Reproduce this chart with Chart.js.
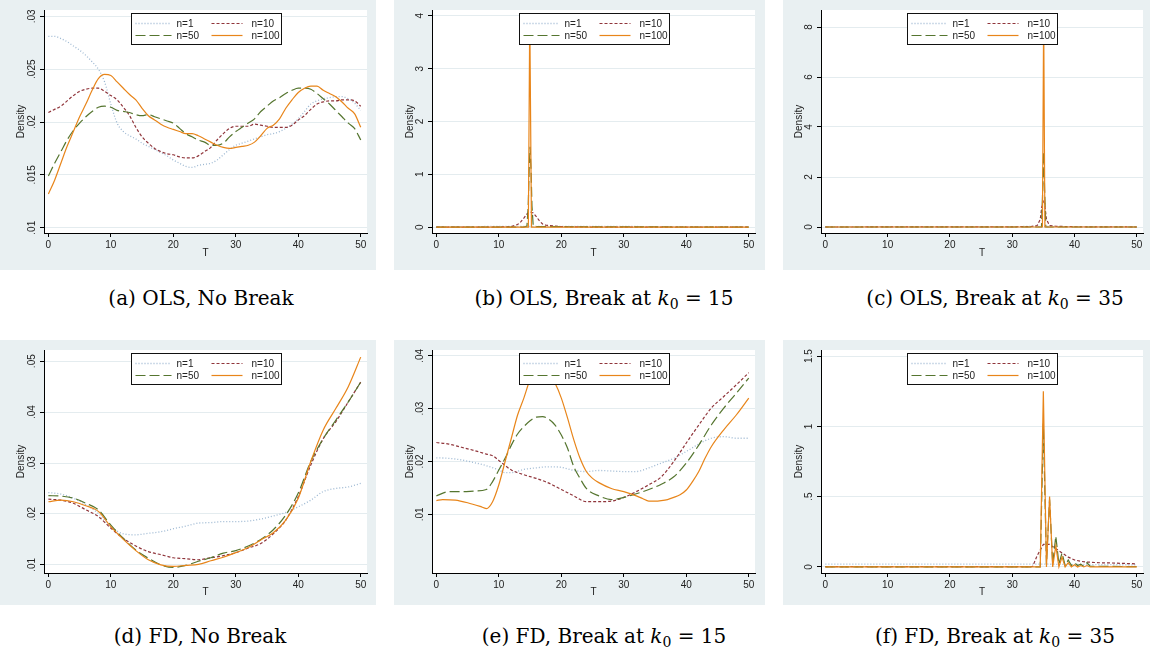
<!DOCTYPE html>
<html>
<head>
<meta charset="utf-8">
<script src="https://cdn.jsdelivr.net/npm/chart.js@4.4.0/dist/chart.umd.min.js"></script>
<style>
  body { margin: 0; width: 1150px; height: 658px; position: relative; overflow: hidden; background: #fff; }
  canvas { position: absolute; }
  .cap { position: absolute; width: 400px; text-align: center; font-family: "DejaVu Serif", serif;
         font-size: 20px; line-height: 24px; color: #000; white-space: nowrap; }
  .cap sub { font-size: 14px; vertical-align: -4px; line-height: 0; }
</style>
</head>
<body>
<script>
// series styling
const seriesLabels = ['n=1', 'n=10', 'n=50', 'n=100'];
const seriesColors = ['#9db8d2', '#90353b', '#55752f', '#e8851a'];
const seriesDash = [[1, 2], [3, 2], [10, 4], []];
const xTicks = [0, 10, 20, 30, 40, 50];

// (a) OLS, No Break
const aT = [0,1,2,3,4,5,6,7,8,9,10,11,12,13,14,15,16,17,18,19,20,21,22,23,24,25,26,27,28,29,30,31,32,33,34,35,36,37,38,39,40,41,42,43,44,45,46,47,48,49,50];
const aN1 = [.0281,.0281,.0279,.0276,.0272,.0268,.0263,.0257,.0250,.0238,.0217,.0199,.0191,.0187,.0184,.0180,.0177,.0174,.0171,.0168,.0164,.0161,.0158,.0157,.0159,.0160,.0161,.0164,.0169,.0174,.0178,.0180,.0182,.0184,.0186,.0188,.0189,.0191,.0194,.0198,.0203,.0210,.0217,.0220,.0222,.0223,.0224,.0224,.0222,.0218,.0211];
const aN10 = [.0209,.0212,.0215,.0220,.0225,.0229,.0231,.0232,.0232,.0229,.0225,.0221,.0214,.0206,.0195,.0186,.0180,.0175,.0172,.0170,.0169,.0167,.0166,.0166,.0168,.0172,.0176,.0183,.0189,.0194,.0196,.0196,.0196,.0198,.0197,.0196,.0195,.0195,.0195,.0197,.0202,.0206,.0212,.0217,.0219,.0220,.0220,.0221,.0221,.0220,.0215];
const aN50 = [.0149,.0161,.0172,.0183,.0192,.0199,.0205,.0210,.0214,.0215,.0214,.0211,.0210,.0209,.0207,.0206,.0207,.0205,.0203,.0201,.0199,.0194,.0189,.0186,.0183,.0181,.0178,.0178,.0180,.0186,.0191,.0195,.0199,.0203,.0210,.0215,.0220,.0223,.0227,.0230,.0232,.0232,.0231,.0227,.0222,.0217,.0211,.0205,.0199,.0194,.0183];
const aN100 = [.0132,.0145,.0161,.0177,.0191,.0205,.0217,.0230,.0241,.0245,.0244,.0238,.0232,.0226,.0221,.0213,.0206,.0202,.0198,.0195,.0193,.0191,.0189,.0189,.0187,.0184,.0181,.0178,.0176,.0175,.0176,.0177,.0178,.0181,.0187,.0194,.0197,.0203,.0213,.0221,.0228,.0232,.0234,.0234,.0230,.0227,.0224,.0219,.0213,.0208,.0195];

// (b) OLS, Break at k0 = 15
const bT1 = [0, 15, 50];
const bN1 = [0.01, 0.015, 0.01];
const bT10 = [0, 10, 12, 13, 13.5, 14, 14.5, 15, 15.5, 16, 16.5, 17, 17.5, 18, 19, 20, 25, 50];
const bN10 = [0, 0.003, 0.01, 0.05, 0.10, 0.17, 0.25, 0.29, 0.27, 0.20, 0.12, 0.06, 0.04, 0.03, 0.02, 0.01, 0.002, 0];
const bT50 = [0, 14, 14.5, 14.7, 14.85, 15, 15.15, 15.3, 15.5, 16, 50];
const bN50 = [0, 0, 0.02, 0.4, 1.1, 1.52, 1.1, 0.4, 0.03, 0.01, 0];
const bT100 = [0, 14.72, 14.95, 15.22, 50];
const bN100 = [0, 0, 4.05, 0, 0];

// (c) OLS, Break at k0 = 35
const cT1 = [0, 35, 50];
const cN1 = [0.01, 0.02, 0.01];
const cT10 = [0, 30, 33, 34, 34.5, 34.8, 35, 35.2, 35.5, 36, 37, 40, 50];
const cN10 = [0, 0.005, 0.02, 0.06, 0.3, 0.9, 1.08, 0.95, 0.3, 0.06, 0.03, 0.01, 0];
const cT50 = [0, 34.7, 34.9, 35.05, 35.2, 35.4, 50];
const cN50 = [0, 0, 1.5, 3.0, 1.5, 0, 0];
const cT100 = [0, 34.85, 35.05, 35.25, 50];
const cN100 = [0, 0, 8.5, 0, 0];

// (d) FD, No Break
const dT = [0,2,4,6,8,10,12,14,16,18,20,22,24,26,28,30,32,34,36,38,40,42,44,46,48,50];
const dN1 = [.0242,.0239,.0231,.0218,.0201,.0175,.0161,.0159,.0162,.0165,.0171,.0176,.0182,.0183,.0185,.0185,.0186,.0190,.0196,.0203,.0214,.0227,.0244,.0250,.0253,.0260];
const dN10 = [.0229,.0227,.0221,.0208,.0195,.0172,.0152,.0137,.0126,.0120,.0114,.0112,.0110,.0114,.0118,.0124,.0133,.0142,.0161,.0188,.0234,.0296,.0348,.0381,.0420,.0459];
const dN50 = [.0236,.0235,.0231,.0221,.0208,.0178,.0152,.0129,.0113,.0100,.0095,.0099,.0107,.0114,.0123,.0128,.0137,.0150,.0169,.0198,.0241,.0303,.0348,.0384,.0420,.0459];
const dN100 = [.0224,.0227,.0224,.0216,.0205,.0175,.0150,.0128,.0110,.0100,.0097,.0099,.0101,.0108,.0115,.0124,.0134,.0149,.0163,.0188,.0231,.0303,.0365,.0407,.0450,.0508];

// (e) FD, Break at k0 = 15
const eT1 = [0,2,4,6,8,10,11,12,14,16,18,20,22,24,26,28,30,32,34,36,38,40,42,44,46,48,50];
const eN1 = [.0207,.0206,.0203,.0198,.0192,.0184,.0179,.0179,.0185,.0188,.0190,.0189,.0183,.0181,.0183,.0182,.0181,.0181,.0188,.0197,.0206,.0219,.0233,.0244,.0247,.0244,.0244];
const eT10 = [0,2,4,6,8,9,10,12,14,16,18,20,22,24,26,28,30,32,34,36,38,40,42,44,46,48,50];
const eN10 = [.0236,.0233,.0227,.0221,.0214,.0211,.0202,.0184,.0175,.0168,.0159,.0147,.0135,.0124,.0124,.0125,.0132,.0143,.0156,.0171,.0200,.0235,.0269,.0301,.0323,.0345,.0368];
const eT50 = [0,2,4,6,8,9,10,11,12,13,14,15,16,17,18,19,20,21,22,23,24,26,28,30,32,34,36,38,40,42,44,46,48,50];
const eN50 = [.0135,.0143,.0143,.0144,.0147,.0162,.0184,.0206,.0231,.0252,.0266,.0277,.0284,.0285,.0280,.0269,.0250,.0225,.0190,.0168,.0149,.0135,.0128,.0132,.0139,.0147,.0157,.0171,.0197,.0231,.0269,.0301,.0329,.0358];
const eT100 = [0,1,3,5,7,8,9,10,11,12,13,14,15,16,17,18,19,20,21,22,23,24,25,26,28,30,32,33,34,35,36,37,38,39,40,41,42,43,44,46,48,50];
const eN100 = [.0126,.0128,.0127,.0122,.0115,.0111,.0124,.0156,.0200,.0244,.0288,.0320,.0355,.0375,.0378,.0365,.0348,.0320,.0282,.0241,.0206,.0181,.0168,.0160,.0149,.0143,.0135,.0130,.0125,.0125,.0126,.0128,.0132,.0137,.0146,.0162,.0181,.0206,.0228,.0260,.0288,.0320];

// (f) FD, Break at k0 = 35
const fT1 = [0, 34, 50];
const fN1 = [0.02, 0.02, 0.015];
const fT10 = [0, 33, 33.3, 34, 35, 36, 37, 38, 39, 40, 41, 42, 44, 46, 48, 50];
const fN10 = [0.003, 0.003, 0.005, 0.08, 0.16, 0.16, 0.13, 0.10, 0.07, 0.05, 0.04, 0.035, 0.03, 0.028, 0.025, 0.022];
const fT50 = [0, 34.5, 35, 35.5, 36, 36.5, 37, 37.5, 38, 38.5, 39, 39.5, 40, 40.5, 41, 41.5, 42, 42.5, 44, 50];
const fN50 = [0, 0, 1.02, 0.02, 0.48, 0.02, 0.22, 0.02, 0.10, 0.01, 0.05, 0.01, 0.03, 0.01, 0.02, 0.005, 0.03, 0.005, 0.005, 0.002];
const fT100 = [0, 34.5, 35, 35.5, 36, 36.5, 37, 37.5, 38, 38.5, 39, 39.5, 40, 40.5, 41, 41.5, 42, 42.5, 50];
const fN100 = [0, 0, 1.25, 0, 0.50, 0, 0.15, 0, 0.07, 0, 0.03, 0, 0.015, 0, 0.01, 0, 0.01, 0, 0];

const captions = [
  '(a) OLS, No Break',
  '(b) OLS, Break at <i>k</i><sub>0</sub> = 15',
  '(c) OLS, Break at <i>k</i><sub>0</sub> = 35',
  '(d) FD, No Break',
  '(e) FD, Break at <i>k</i><sub>0</sub> = 15',
  '(f) FD, Break at <i>k</i><sub>0</sub> = 35'
];

const panels = [
  { left: 0,   top: 0,   w: 376, h: 270, yW: 44, padR: 9,  xH: 37, tPad: 11, dPad: 15, capX: 201, capY: 298,
    yMin: .0095, yMax: .0306, yTicks: [.01, .015, .02, .025, .03], yLabels: ['.01', '.015', '.02', '.025', '.03'],
    smooth: true, xs: [aT, aT, aT, aT], ys: [aN1, aN10, aN50, aN100] },
  { left: 394, top: 0,   w: 371, h: 270, yW: 38, padR: 10, xH: 37, tPad: 11, dPad: 10, capX: 604, capY: 298,
    yMin: -0.11, yMax: 4.11, yTicks: [0, 1, 2, 3, 4], yLabels: ['0', '1', '2', '3', '4'],
    smooth: false, xs: [bT1, bT10, bT50, bT100], ys: [bN1, bN10, bN50, bN100] },
  { left: 783, top: 0,   w: 367, h: 270, yW: 38, padR: 7,  xH: 37, tPad: 11, dPad: 10, capX: 995, capY: 298,
    yMin: -0.24, yMax: 8.68, yTicks: [0, 2, 4, 6, 8], yLabels: ['0', '2', '4', '6', '8'],
    smooth: false, xs: [cT1, cT10, cT50, cT100], ys: [cN1, cN10, cN50, cN100] },
  { left: 0,   top: 340, w: 376, h: 265, yW: 44, padR: 9,  xH: 32, tPad: 7,  dPad: 15, capX: 200, capY: 636,
    yMin: .0084, yMax: .0522, yTicks: [.01, .02, .03, .04, .05], yLabels: ['.01', '.02', '.03', '.04', '.05'],
    smooth: true, xs: [dT, dT, dT, dT], ys: [dN1, dN10, dN50, dN100] },
  { left: 394, top: 340, w: 371, h: 265, yW: 38, padR: 10, xH: 32, tPad: 7,  dPad: 10, capX: 604, capY: 636,
    yMin: -0.0011, yMax: .0411, yTicks: [.01, .02, .03, .04], yLabels: ['.01', '.02', '.03', '.04'],
    smooth: true, xs: [eT1, eT10, eT50, eT100], ys: [eN1, eN10, eN50, eN100] },
  { left: 783, top: 340, w: 367, h: 265, yW: 38, padR: 7,  xH: 32, tPad: 7,  dPad: 10, capX: 995, capY: 636,
    yMin: -0.043, yMax: 1.543, yTicks: [0, .5, 1, 1.5], yLabels: ['0', '.5', '1', '1.5'],
    smooth: false, xs: [fT1, fT10, fT50, fT100], ys: [fN1, fN10, fN50, fN100] }
];

Chart.defaults.font.family = '"Liberation Sans", Arial, sans-serif';
Chart.defaults.font.size = 10;
Chart.defaults.color = '#222';

function makePanel(p, idx) {
  const cv = document.createElement('canvas');
  cv.width = p.w; cv.height = p.h;
  cv.style.left = p.left + 'px'; cv.style.top = p.top + 'px';
  document.body.appendChild(cv);

  const cap = document.createElement('div');
  cap.className = 'cap';
  cap.innerHTML = captions[idx];
  cap.style.left = (p.capX - 200) + 'px';
  cap.style.top = (p.capY - 12) + 'px';
  document.body.appendChild(cap);

  const datasets = seriesLabels.map((lab, i) => ({
    label: lab,
    data: p.xs[i].map((x, j) => ({ x: x, y: p.ys[i][j] })),
    borderColor: seriesColors[i],
    borderDash: seriesDash[i],
    borderWidth: i == 0 ? 1.3 : 1.2,
    pointRadius: 0,
    fill: false,
    tension: 0,
    cubicInterpolationMode: p.smooth ? 'monotone' : 'default',
    order: 3 - i
  }));

  const deco = {
    id: 'deco',
    beforeDraw(chart) {
      const { ctx, chartArea: a } = chart;
      ctx.save();
      ctx.fillStyle = '#e9f0f2';
      ctx.fillRect(0, 0, chart.width, chart.height);
      ctx.fillStyle = '#fff';
      ctx.fillRect(a.left, a.top, a.right - a.left, a.bottom - a.top);
      ctx.restore();
    },
    afterDatasetsDraw(chart) {
      // legend box on top of the curves
      const { ctx, chartArea: a } = chart;
      const L = Math.round((a.left + a.right) / 2 - 75) + 0.5;
      const T = Math.round(a.top + 2.5) + 0.5;
      ctx.save();
      ctx.fillStyle = '#fff';
      ctx.fillRect(L, T, 150, 31);
      ctx.strokeStyle = '#111';
      ctx.lineWidth = 1;
      ctx.strokeRect(L, T, 150, 31);
      ctx.font = '10px "Liberation Sans", Arial, sans-serif';
      ctx.textBaseline = 'middle';
      chart.data.datasets.forEach((ds, i) => {
        const col = i % 2, row = Math.floor(i / 2);
        const y = T + (row ? 22 : 10);
        ctx.strokeStyle = ds.borderColor;
        ctx.lineWidth = ds.borderWidth;
        ctx.setLineDash(ds.borderDash);
        ctx.beginPath();
        ctx.moveTo(L + (col ? 80 : 4), y);
        ctx.lineTo(L + (col ? 111 : 40), y);
        ctx.stroke();
        ctx.setLineDash([]);
        ctx.fillStyle = '#222';
        ctx.fillText(ds.label, L + (col ? 120 : 45), y + 0.5);
      });
      ctx.restore();
    },
    afterDraw(chart) {
      // rotated y tick labels, Stata style
      const { ctx, chartArea: a } = chart;
      const ys = chart.scales.y;
      ctx.save();
      ctx.font = '10px "Liberation Sans", Arial, sans-serif';
      ctx.fillStyle = '#222';
      ctx.textAlign = 'center';
      ctx.textBaseline = 'alphabetic';
      p.yTicks.forEach((v, i) => {
        ctx.save();
        ctx.translate(a.left - 9, ys.getPixelForValue(v));
        ctx.rotate(-Math.PI / 2);
        ctx.fillText(p.yLabels[i], 0, 0);
        ctx.restore();
      });
      ctx.restore();
    }
  };

  new Chart(cv.getContext('2d'), {
    type: 'line',
    data: { datasets: datasets },
    options: {
      responsive: false,
      animation: false,
      devicePixelRatio: 1,
      layout: { padding: { left: 0, top: 10, right: p.padR, bottom: 0 } },
      plugins: { legend: { display: false }, tooltip: { enabled: false } },
      scales: {
        x: {
          type: 'linear', min: -0.7, max: 51,
          border: { color: '#000', width: 1 },
          grid: { drawOnChartArea: false, color: '#000', tickColor: '#000', tickLength: 4 },
          ticks: { padding: 2, autoSkip: false, maxRotation: 0, color: '#222' },
          afterBuildTicks: s => { s.ticks = xTicks.map(v => ({ value: v })); },
          afterFit: s => { s.height = p.xH; },
          title: { display: true, text: 'T', color: '#222', font: { size: 10 }, padding: { top: 0, bottom: p.tPad } }
        },
        y: {
          type: 'linear', min: p.yMin, max: p.yMax,
          border: { color: '#000', width: 1 },
          grid: { color: '#e4ecef', tickColor: '#000', tickLength: 4 },
          ticks: { display: false },
          afterBuildTicks: s => { s.ticks = p.yTicks.map(v => ({ value: v })); },
          afterFit: s => { s.width = p.yW; },
          title: { display: true, text: 'Density', color: '#222', font: { size: 10 }, padding: { top: p.dPad, bottom: 0 } }
        }
      }
    },
    plugins: [deco]
  });
}

panels.forEach(makePanel);
</script>
</body>
</html>
